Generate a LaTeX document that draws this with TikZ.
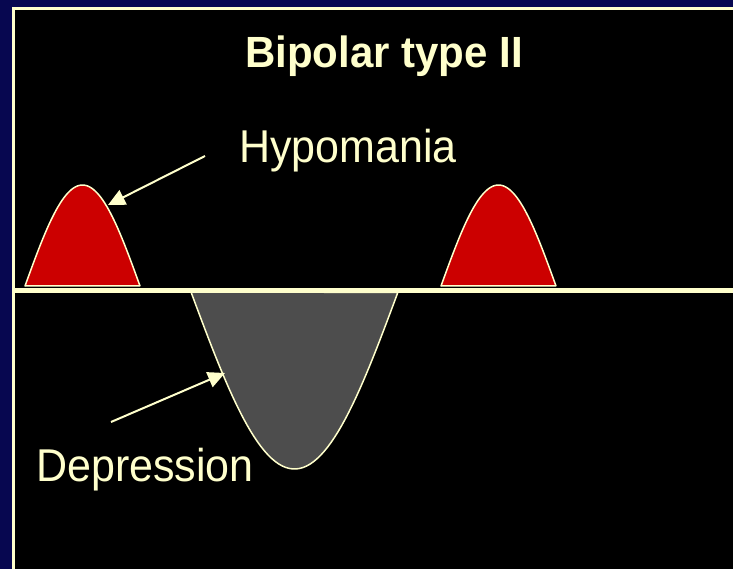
\documentclass[tikz,border=0pt]{standalone}
\usepackage{fontspec}
\setmainfont{Liberation Sans}
\usetikzlibrary{arrows.meta}
\definecolor{navy}{RGB}{7,7,80}
\definecolor{cream}{RGB}{255,255,204}
\definecolor{mred}{RGB}{204,0,0}
\definecolor{mgrey}{RGB}{77,77,77}
\tikzset{
  label/.style={text=cream, inner sep=0pt, yscale=1.07, transform shape, font=\fontsize{43}{50}\selectfont},
  titlelabel/.style={text=cream, inner sep=0pt, yscale=1.04, transform shape, font=\fontsize{42}{50}\selectfont\bfseries},
  arr/.style={draw=cream, line width=2pt, -{Triangle[length=17pt,width=16pt]}},
  hump/.style={draw=cream, line width=1.5pt, line join=round},
}
\begin{document}
\begin{tikzpicture}[x=1pt,y=-1pt]
\useasboundingbox (0,0) rectangle (733,569);
\fill[navy] (0,0) rectangle (733,569);
\draw[cream, line width=2.5pt, fill=black] (13.3,8.7) rectangle (760,600);
% hypomania humps
\draw[hump, fill=mred] plot[domain=0:1, samples=60] ({25+115*\x},{286-101*sin(180*\x)}) -- cycle;
\draw[hump, fill=mred] plot[domain=0:1, samples=60] ({441+115*\x},{286-101*sin(180*\x)}) -- cycle;
% depression trough
\draw[hump, fill=mgrey] plot[domain=0:1, samples=60] ({191+207*\x},{292+177*sin(180*\x)}) -- cycle;
% baseline
\draw[cream, line width=4.5pt] (13,290.5) -- (740,290.5);
% labels
\node[titlelabel, anchor=base] (title) at (384,68) {Bipolar type II};
\node[label, anchor=base west] (hypo) at (239,163) {Hypomania};
\node[label, anchor=base west] (dep) at (36,481) {Depression};
% arrows
\coordinate (hypotail) at (205,156);
\coordinate (hypotip) at (108,205);
\coordinate (deptail) at (111,422);
\coordinate (deptip) at (225,373);
\draw[arr] (hypotail) -- (hypotip);
\draw[arr] (deptail) -- (deptip);
\end{tikzpicture}
\end{document}
